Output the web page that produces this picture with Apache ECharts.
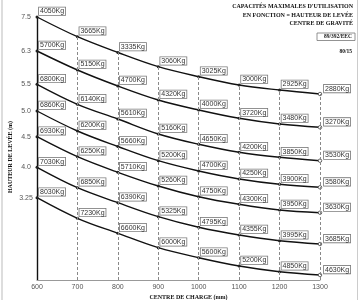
<!DOCTYPE html>
<html><head><meta charset="utf-8">
<script src="https://cdn.jsdelivr.net/npm/echarts@6/dist/echarts.min.js"></script>
<style>html,body{margin:0;padding:0;background:#fff}#c{width:360px;height:300px}</style>
</head><body><div id="c"></div>
<script>
const loadCentres = [600,700,800,900,1000,1100,1200,1300];
const heightLabels = ['7.5','6.3','5.5','5.0','4.5','4.0','3.25'];
// vertical position of each curve on the chart's (schematic) scale
const pos75 = [263,243.3,227.5,213.3,203.3,195,190,186];
const pos63 = [229,210,194,180,170,161.7,156,152.7];
const pos55 = [195.7,175.7,161,146,135.7,127.7,122.7,119.3];
const pos50 = [169,149,133.5,119.3,109,101,95.7,92.7];
const pos45 = [143.3,123.3,107.7,94,83.3,75.7,70,67.3];
const pos40 = [112.7,92.3,77.3,63.3,52.7,45,39.3,36];
const pos325 = [82.3,61.7,46.7,32.3,22.3,14,8.3,5];
// capacities (kg) shown at each point
const cap75 = [4050,3665,3335,3060,3025,3000,2925,2880];
const cap63 = [5700,5150,4700,4320,4000,3720,3480,3270];
const cap55 = [6800,6140,5610,5160,4650,4200,3850,3530];
const cap50 = [6860,6200,5660,5200,4700,4250,3900,3580];
const cap45 = [6930,6250,5710,5260,4750,4300,3950,3630];
const cap40 = [7030,6850,6390,5325,4795,4355,3995,3685];
const cap325 = [8030,7230,6600,6000,5600,5200,4850,4630];

const positions = [pos75,pos63,pos55,pos50,pos45,pos40,pos325];
const capacities = [cap75,cap63,cap55,cap50,cap45,cap40,cap325];
const startValues = positions.map(p => p[0]);

const labelStyle = {
  show: true, position: 'top', align: 'left', distance: 0.5, offset: [2, 0],
  fontFamily: 'Liberation Sans', fontSize: 7, color: '#333', lineHeight: 7,
  backgroundColor: '#fff', borderColor: '#777', borderWidth: 0.8, padding: [0.5,1,0,1]
};

const series = positions.map((pos, s) => {
  const data = loadCentres.map((x, i) => {
    const item = {
      value: [x, pos[i]],
      label: { formatter: capacities[s][i] + 'Kg' }
    };
    if (i === loadCentres.length - 1) {
      item.symbol = 'circle'; item.symbolSize = 3.5;
      item.itemStyle = { color: '#fff', borderColor: '#444', borderWidth: 0.8 };
      item.label.offset = [4, 1];
    }
    return item;
  });
  const ser = {
    type: 'line', name: heightLabels[s], data, smooth: 0.35,
    symbol: 'circle', symbolSize: 3, showSymbol: true,
    lineStyle: { color: '#111', width: 1.4 },
    itemStyle: { color: '#222', borderColor: '#222', borderWidth: 0 },
    label: labelStyle, z: 3, animation: false
  };
  if (s === 0) {
    ser.markLine = {
      silent: true, symbol: 'none', animation: false,
      label: { show: false },
      lineStyle: { type: [3, 2], color: '#888', width: 1 },
      data: loadCentres.slice(1).map((x, i) => [
        { coord: [x, 0] }, { coord: [x, pos75[i + 1]] }
      ])
    };
  }
  return ser;
});

const serif = 'Liberation Serif';
const chart = echarts.init(document.getElementById('c'), null, { renderer: 'canvas' });
chart.setOption({
  animation: false,
  backgroundColor: '#fff',
  grid: { left: 37, right: 40, top: 17, bottom: 20, containLabel: false },
  xAxis: {
    type: 'value', min: 600, max: 1300, interval: 100,
    axisLine: { show: true, lineStyle: { color: '#999', width: 1 } },
    axisTick: { show: false }, splitLine: { show: false },
    axisLabel: { formatter: v => String(v), fontFamily: 'Liberation Sans', fontSize: 7, color: '#555', margin: 4 }
  },
  yAxis: {
    type: 'value', min: 0, max: 263,
    axisLine: { show: true, onZero: false, lineStyle: { color: '#111', width: 1.4 } },
    axisTick: { show: false }, splitLine: { show: false },
    axisLabel: {
      customValues: startValues,
      formatter: v => { const k = startValues.indexOf(v); return k >= 0 ? heightLabels[k] : ''; },
      fontFamily: 'Liberation Sans', fontSize: 7, color: '#555', align: 'center', margin: 11
    }
  },
  graphic: [
    { type: 'rect', shape: { x: 1.5, y: 0, width: 1, height: 300 }, style: { fill: '#bbb' }, silent: true },
    { type: 'rect', shape: { x: 357, y: 0, width: 1, height: 300 }, style: { fill: '#ccc' }, silent: true },
    { type: 'text', x: 353, y: 6, style: { text: "CAPACITÉS MAXIMALES D'UTILISATION", font: 'bold 6px ' + serif, fill: '#111', align: 'right', verticalAlign: 'middle' } },
    { type: 'text', x: 353, y: 15, style: { text: 'EN FONCTION = HAUTEUR DE LEVÉE', font: 'bold 6px ' + serif, fill: '#111', align: 'right', verticalAlign: 'middle' } },
    { type: 'text', x: 353, y: 23.5, style: { text: 'CENTRE DE GRAVITÉ', font: 'bold 6px ' + serif, fill: '#111', align: 'right', verticalAlign: 'middle' } },
    { type: 'rect', shape: { x: 317, y: 33, width: 38, height: 7.5 }, style: { fill: '#fff', stroke: '#777', lineWidth: 0.8 } },
    { type: 'text', x: 352, y: 37, style: { text: '89/392/EEC', font: 'bold 5.5px ' + serif, fill: '#111', align: 'right', verticalAlign: 'middle' } },
    { type: 'text', x: 352, y: 51.5, style: { text: '80/15', font: 'bold 5.5px ' + serif, fill: '#111', align: 'right', verticalAlign: 'middle' } },
    { type: 'text', x: 10.5, y: 157, rotation: Math.PI / 2, style: { text: 'HAUTEUR DE LEVÉE (m)', font: 'bold 6px ' + serif, fill: '#111', align: 'center', verticalAlign: 'middle' } },
    { type: 'text', x: 188.5, y: 294.5, style: { text: 'CENTRE DE CHARGE (mm)', font: 'bold 6px ' + serif, fill: '#111', align: 'center', verticalAlign: 'top' } }
  ],
  series
});
</script></body></html>
